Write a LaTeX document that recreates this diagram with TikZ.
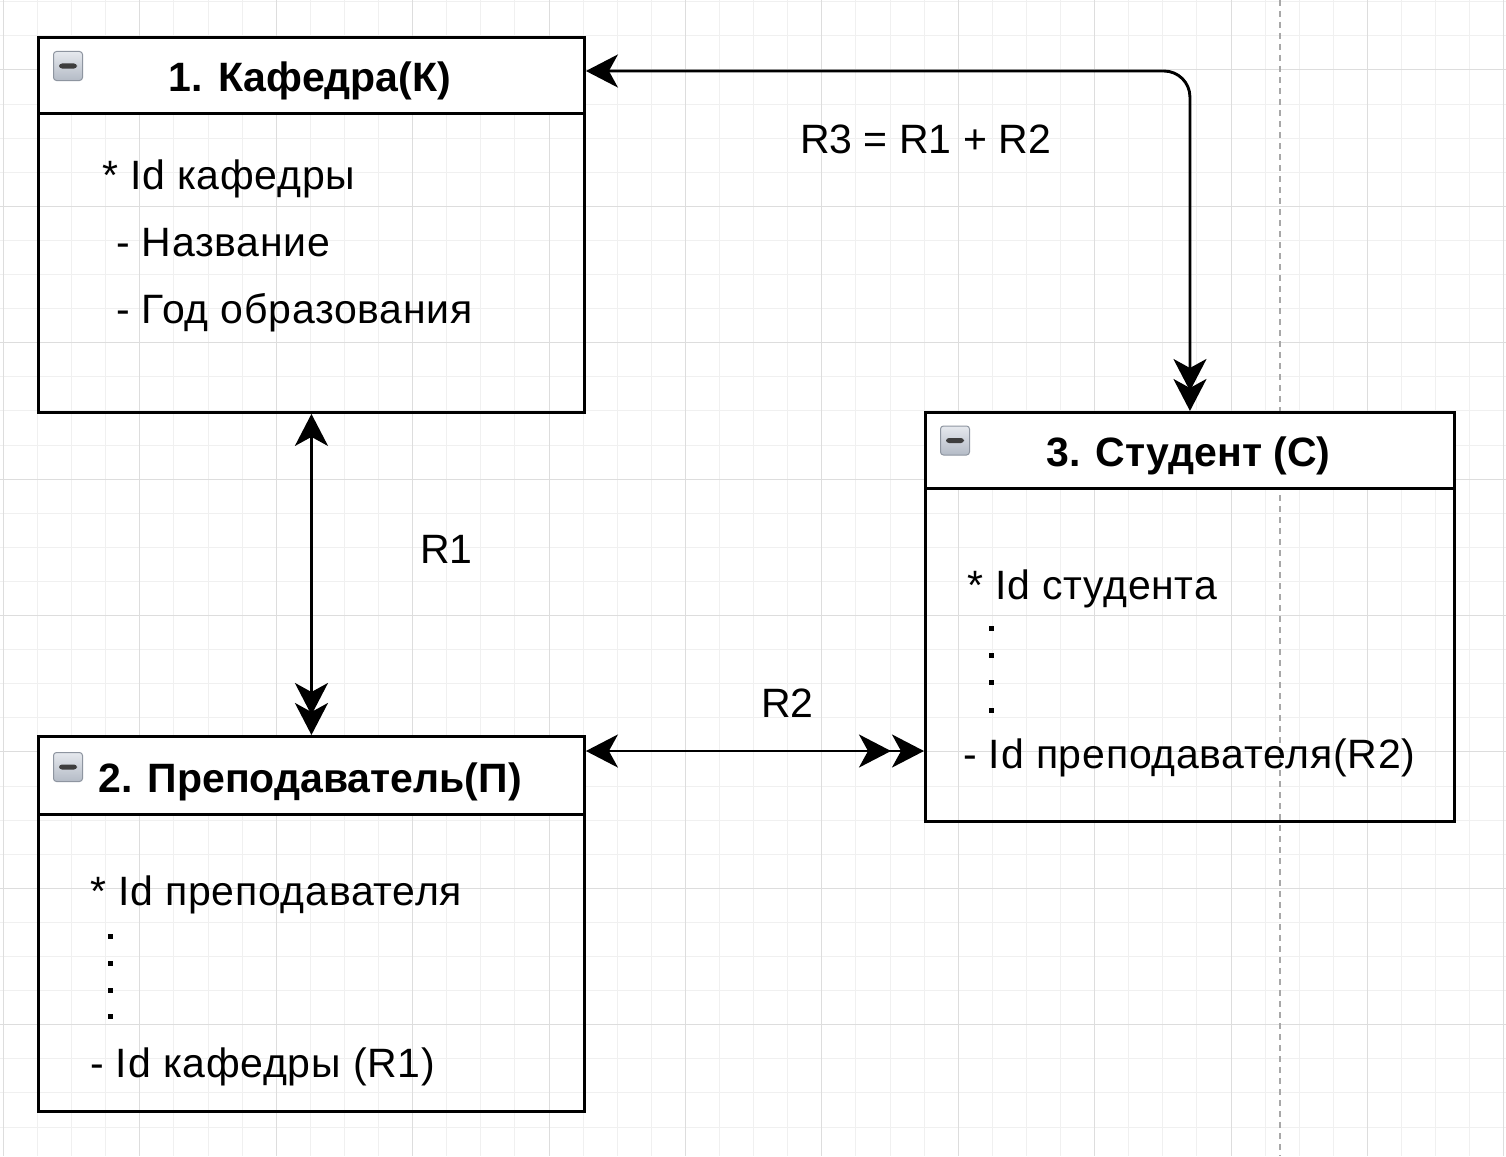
\documentclass[tikz,border=0pt]{standalone}
\usepackage{fontspec}
\setmainfont{Liberation Sans}
\usetikzlibrary{arrows.meta}
\definecolor{gridminor}{HTML}{F0F0F0}
\definecolor{gridmajor}{HTML}{DDDDDD}
\definecolor{pageline}{HTML}{A8A8A8}
\definecolor{icontop}{HTML}{E6E9EE}
\definecolor{iconbot}{HTML}{B4BBC6}
\definecolor{iconedge}{HTML}{8E95A0}
\definecolor{iconbar}{HTML}{3E3E3E}
\begin{document}
\begin{tikzpicture}[x=1pt,y=-1pt,
  minorline/.style={draw=gridminor, line width=1pt},
  majorline/.style={draw=gridmajor, line width=1pt},
  pagebreak/.style={draw=pageline, line width=1.3pt, dash pattern=on 6pt off 5pt},
  boxframe/.style={draw=black, line width=2.9pt, anchor=north west, inner sep=0pt},
  header/.style={draw=black, fill=white, line width=2.9pt, anchor=north west, inner sep=0pt},
  titletext/.style={font=\fontsize{41pt}{49pt}\selectfont\bfseries, anchor=base, inner sep=0pt},
  bodytext/.style={font=\fontsize{41pt}{49pt}\selectfont\addfontfeature{LetterSpace=1.8}, anchor=base west, inner sep=0pt},
  reltext/.style={font=\fontsize{41pt}{49pt}\selectfont, anchor=base west, inner sep=0pt},
  dotsq/.style={fill=black, minimum size=5pt, inner sep=0pt},
  minusicon/.style={draw=iconedge, line width=1pt, rounded corners=3pt, top color=icontop, bottom color=iconbot, minimum size=29pt, inner sep=0pt,
    path picture={\fill[iconbar] ([xshift=-9pt,yshift=-2.5pt]path picture bounding box.center) rectangle ([xshift=9pt,yshift=2.5pt]path picture bounding box.center);}},
  conn/.style={draw=black, line width=2.9pt},
]
\useasboundingbox (0,0) rectangle (1506,1156);
\fill[white] (0,0) rectangle (1506,1156);
% grid
\foreach \n in {0,...,44} \draw[minorline] ({3.4+34.1*\n},0) -- ({3.4+34.1*\n},1156);
\foreach \m in {0,...,33} \draw[minorline] (0,{1.7+34.1*\m}) -- (1506,{1.7+34.1*\m});
\foreach \n in {0,4,...,44} \draw[majorline] ({3.4+34.1*\n},0) -- ({3.4+34.1*\n},1156);
\foreach \m in {2,6,...,30} \draw[majorline] (0,{1.7+34.1*\m}) -- (1506,{1.7+34.1*\m});
\draw[pagebreak] (1280,0) -- (1280,1156);

% box 1
\node[header, minimum width=546pt, minimum height=76pt] (kh) at (37,36) {};
\node[boxframe, minimum width=546pt, minimum height=375pt] (k) at (37,36) {};
\node[minusicon] (ki) at (68,66) {};
\node[titletext] (kt) at (310,92) {1. Кафедра(К)};
\node[bodytext] (k1) at (102,189) {* Id кафедры};
\node[bodytext] (k2) at (116,256) {- Название};
\node[bodytext] (k3) at (116,323) {- Год образования};

% box 2
\node[header, minimum width=546pt, minimum height=78pt] (ph) at (37,735) {};
\node[boxframe, minimum width=546pt, minimum height=375pt] (p) at (37,735) {};
\node[minusicon] (pi) at (68,767) {};
\node[titletext] (pt) at (310,792) {2. Преподаватель(П)};
\node[bodytext] (p1) at (90,905) {* Id преподавателя};
\node[dotsq] (pd1) at (110.7,936) {};
\node[dotsq] (pd2) at (110.7,963) {};
\node[dotsq] (pd3) at (110.7,990) {};
\node[dotsq] (pd4) at (110.7,1016.7) {};
\node[bodytext] (p2) at (90,1077) {- Id кафедры (R1)};

% box 3
\node[header, minimum width=529pt, minimum height=76pt] (sh) at (924,411) {};
\node[boxframe, minimum width=529pt, minimum height=409pt] (s) at (924,411) {};
\node[minusicon] (si) at (955,440.5) {};
\node[titletext] (st) at (1188.5,466.7) {3. Студент (С)};
\node[bodytext] (s1) at (967,599) {* Id студента};
\node[dotsq] (sd1) at (991.7,628.3) {};
\node[dotsq] (sd2) at (991.7,655) {};
\node[dotsq] (sd3) at (991.7,682.7) {};
\node[dotsq] (sd4) at (991.7,710) {};
\node[bodytext] (s2) at (963,768) {- Id преподавателя(R2)};

% relation labels
\node[reltext] (r1) at (420,563) {R1};
\node[reltext] (r2) at (761,717) {R2};
\node[reltext] (r3) at (800,153) {R3 = R1 + R2};

% connectors
\draw[conn, {Stealth[length=32pt,width=33pt,inset=9pt]}-{Stealth[length=32pt,width=33pt,inset=9pt,sep=-12pt]Stealth[length=32pt,width=33pt,inset=9pt]}] (k.south) -- (p.north);
\coordinate (r2a) at ([yshift=-16pt]p.north east);
\draw[conn, {Stealth[length=32pt,width=33pt,inset=9pt]}-{Stealth[length=32pt,width=33pt,inset=9pt,sep=1pt]Stealth[length=32pt,width=33pt,inset=9pt]}] (r2a) -- (r2a -| s.west);
\coordinate (r3a) at ([yshift=-35pt]k.north east);
\draw[conn, rounded corners=26pt, {Stealth[length=32pt,width=33pt,inset=9pt]}-{Stealth[length=32pt,width=33pt,inset=9pt,sep=-12pt]Stealth[length=32pt,width=33pt,inset=9pt]}] (r3a) -| (s.north);
\end{tikzpicture}
\end{document}
